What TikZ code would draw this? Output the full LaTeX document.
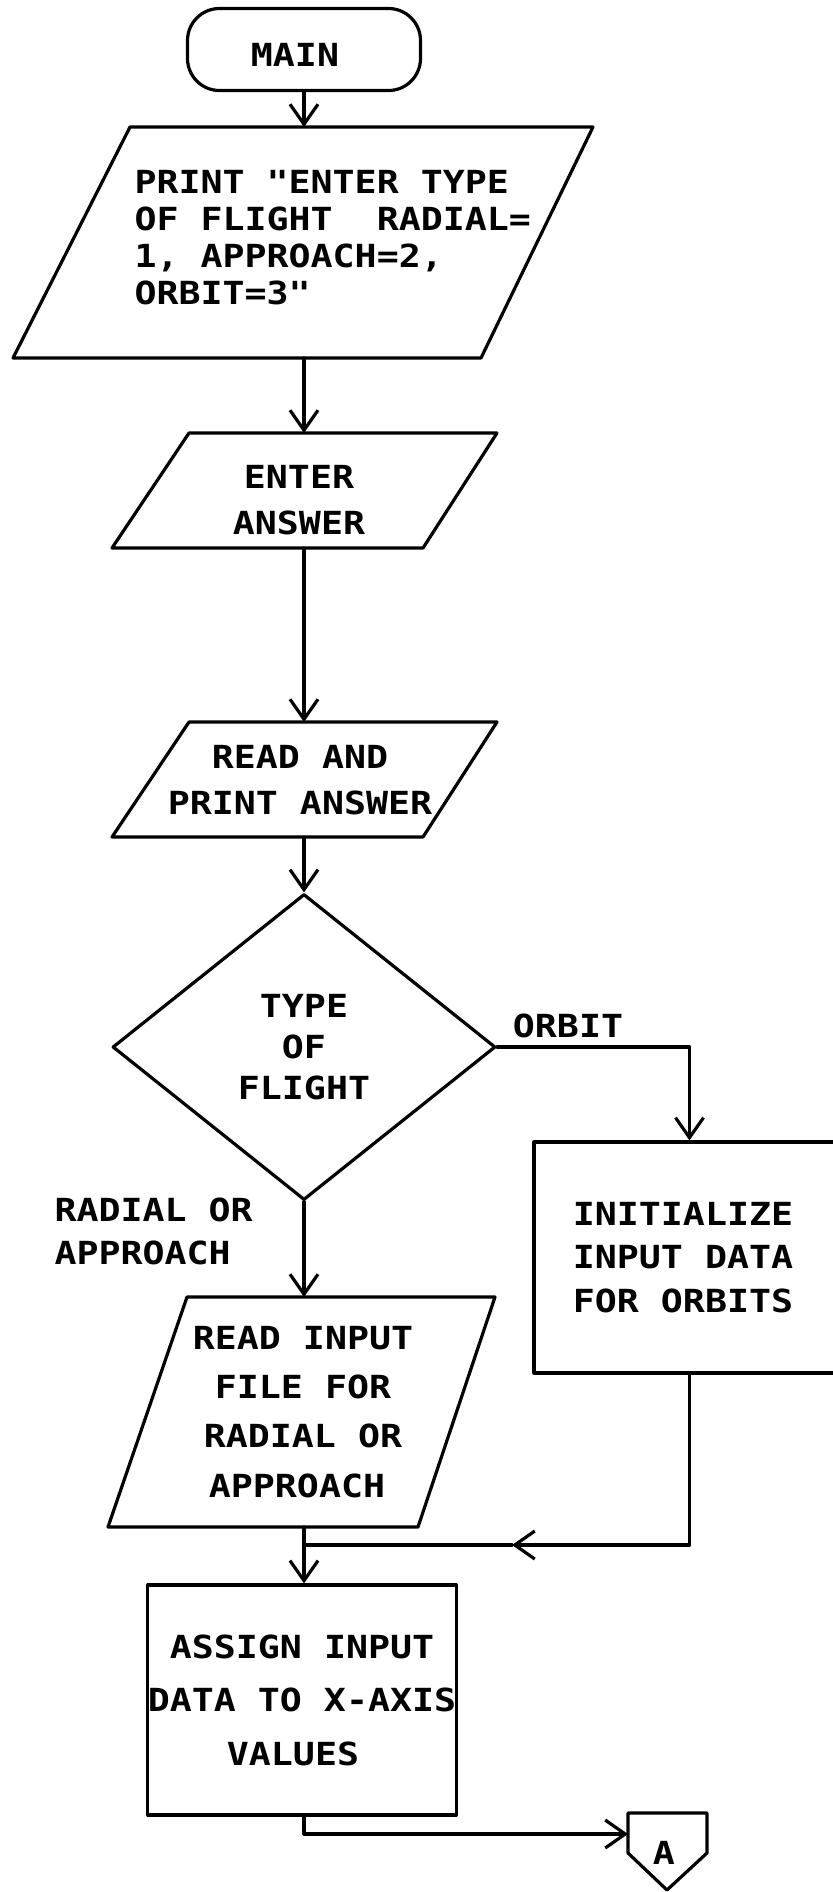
\documentclass[tikz,border=0pt]{standalone}
\usepackage{fontspec}
\newfontfamily\plotter[FakeStretch=1.15]{DejaVu Sans Mono}
\usetikzlibrary{arrows.meta,shapes.geometric,calc}

\begin{document}
\begin{tikzpicture}[x=0.5pt, y=-0.5pt,
  line width=1.6pt, line cap=round, line join=round,
  every node/.style={font=\plotter\bfseries\fontsize{15.9}{20}\selectfont, inner sep=0pt},
  lsp/.style={font=\plotter\bfseries\fontsize{15.9}{#1}\selectfont},
  flow/.style={-{Straight Barb[length=10pt,width=14pt]}},
  procbox/.style={draw, rectangle},
]
% page frame: 833 x 1892 units, y grows downward
\path[use as bounding box] (0,0) rectangle (833,1892);
\clip (0,0) rectangle (833,1892);
\fill[white] (0,0) rectangle (833,1892);

% ---- start terminal
\node[draw, rounded corners=16pt, minimum width=116.5pt, minimum height=41pt,
      text height=17.1pt] (main) at (304,49.5) {MAIN\kern9pt};

% ---- print prompt (output parallelogram)
\coordinate (p1tl) at (130,127);  \coordinate (p1tr) at (593,127);
\coordinate (p1br) at (481,358);  \coordinate (p1bl) at (13,358);
\draw (p1tl) -- (p1tr) -- (p1br) -- (p1bl) -- cycle;
\node[anchor=west, align=left, lsp=18.5pt] (p1) at (133,238)
  {PRINT "ENTER TYPE\\OF FLIGHT\ \ RADIAL=\\1, APPROACH=2,\\ORBIT=3"};

% ---- enter answer
\coordinate (p2tl) at (189,433);  \coordinate (p2tr) at (497,433);
\coordinate (p2br) at (423,548);  \coordinate (p2bl) at (112,548);
\draw (p2tl) -- (p2tr) -- (p2br) -- (p2bl) -- cycle;
\node[align=center, lsp=23pt] (p2) at (299,500) {ENTER\\ANSWER};

% ---- read and print answer
\coordinate (p3tl) at (189,722);  \coordinate (p3tr) at (497,722);
\coordinate (p3br) at (423,837);  \coordinate (p3bl) at (112,837);
\draw (p3tl) -- (p3tr) -- (p3br) -- (p3bl) -- cycle;
\node[align=center, lsp=23pt] (p3) at (300,780) {READ AND\\PRINT ANSWER};

% ---- decision
\node[draw, diamond, minimum width=191.5pt, minimum height=153pt,
      align=center, lsp=20.5pt] (type) at (304,1047) {TYPE\\OF\\FLIGHT};
\node (orbl) at (568,1026) {ORBIT};
\node[anchor=west, align=left, lsp=21.5pt] (radl) at (53,1231) {RADIAL OR\\APPROACH};

% ---- orbit branch
\node[procbox, minimum width=155.5pt, minimum height=115.5pt,
      align=center, lsp=21.75pt] (init) at (689.5,1257.5)
  {INITIALIZE\kern6.5pt\\INPUT DATA\kern6.5pt\\FOR ORBITS\kern6.5pt};

% ---- radial / approach branch
\coordinate (p4tl) at (187,1297);  \coordinate (p4tr) at (495,1297);
\coordinate (p4br) at (418,1527);  \coordinate (p4bl) at (108,1527);
\draw (p4tl) -- (p4tr) -- (p4br) -- (p4bl) -- cycle;
\node[align=center, lsp=24.6pt] (p4) at (303,1412)
  {READ INPUT\\FILE FOR\\RADIAL OR\\APPROACH\kern6pt};

% ---- assignment
\node[procbox, minimum width=154pt, minimum height=115pt,
      align=center, lsp=26.75pt] (assign) at (302,1700)
  {ASSIGN INPUT\\DATA TO X-AXIS\\VALUES\kern9pt};

% ---- off-page connector
\coordinate (atl) at (628,1813);  \coordinate (atr) at (707,1813);
\coordinate (ar) at (707,1853);   \coordinate (ap) at (667,1890);
\coordinate (al) at (628,1853);
\draw (atl) -- (atr) -- (ar) -- (ap) -- (al) -- cycle;
\node (a) at (664,1853) {A};
\coordinate (ain) at (628,1834);

% ---- flow lines
\coordinate (merge) at (304,1545);
\coordinate (mtip) at (512,1545);
\draw[flow] (main.south) -- (main.south |- p1tl);
\draw[flow] (main.south |- p1bl) -- (main.south |- p2tl);
\draw[flow] (main.south |- p2bl) -- (main.south |- p3tl);
\draw[flow] (main.south |- p3bl) -- (type.north);
\draw[flow] (type.east) -| (init.north);
\draw[flow] (type.south) -- (type.south |- p4tl);
\draw[flow] (init.south) |- (mtip);
\draw (mtip) -- (merge);
\draw[flow] (merge |- p4bl) -- (assign.north -| merge);
\draw[flow] (assign.south -| merge) |- (ain);
\end{tikzpicture}
\end{document}
